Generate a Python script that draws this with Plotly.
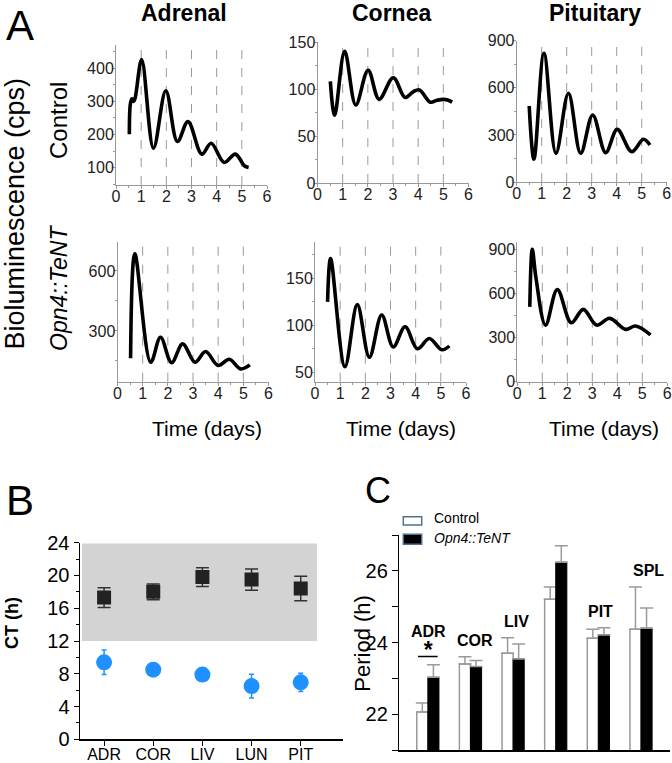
import plotly.graph_objects as go

W, H = 672, 763

# ---------------- Panel A data (time in days, bioluminescence in cps) -------------
adr_ctrl_t = [0.53, 0.57, 0.63, 0.70, 0.76, 1.02, 1.49, 1.98, 2.44, 2.86, 3.41, 3.78, 4.30, 4.74, 5.10, 5.27]
adr_ctrl_v = [201, 292, 308, 300, 310, 426, 159, 332, 179, 239, 141, 174, 116, 141, 106, 101]

cor_ctrl_t = [0.51, 0.68, 1.08, 1.52, 2.01, 2.45, 3.01, 3.48, 3.80, 4.05, 4.48, 4.75, 5.00, 5.20, 5.35]
cor_ctrl_v = [108, 72, 140, 83, 120, 89, 112, 91, 97, 99, 86, 88, 89, 88, 86]

pit_ctrl_t = [0.50, 0.69, 1.09, 1.57, 2.07, 2.56, 3.04, 3.56, 4.02, 4.60, 5.07, 5.33]
pit_ctrl_v = [484, 145, 820, 183, 565, 183, 427, 187, 335, 193, 272, 235]

adr_tent_t = [0.52, 0.69, 1.32, 1.71, 2.15, 2.59, 3.08, 3.50, 4.00, 4.44, 4.89, 5.26]
adr_tent_v = [163, 685, 143, 268, 141, 235, 143, 197, 127, 158, 110, 130]

cor_tent_t = [0.50, 0.62, 1.19, 1.68, 2.16, 2.65, 3.11, 3.58, 4.07, 4.54, 5.04, 5.34]
cor_tent_v = [125, 171, 56, 122, 66, 111, 77, 98.5, 75, 86, 74, 78]

pit_tent_t = [0.50, 0.60, 0.75, 1.13, 1.60, 2.16, 2.64, 3.17, 3.70, 4.33, 4.73, 5.33]
pit_tent_v = [508, 898, 700, 384, 626, 400, 491, 384, 430, 355, 378, 317]

tissues_a = ["Adrenal", "Cornea", "Pituitary"]
rows_a = ["Control", "Opn4::TeNT"]
day_ticks = [0, 1, 2, 3, 4, 5, 6]

# ---------------- Panel B data (CT, h) -------------
cats_b = ["ADR", "COR", "LIV", "LUN", "PIT"]
square_ct = [17.3, 18.0, 19.8, 19.5, 18.4]
square_err = [1.2, 0.95, 1.15, 1.3, 1.5]
circle_ct = [9.4, 8.5, 7.9, 6.5, 6.95]
circle_err = [1.5, 0.8, 0.3, 1.45, 1.1]
night_start, night_end = 12, 24

# ---------------- Panel C data (period, h) -------------
cats_c = ["ADR", "COR", "LIV", "LUN", "PIT", "SPL"]
ctrl_period = [22.06, 23.40, 23.70, 25.21, 24.12, 24.37]
ctrl_sem = [0.25, 0.20, 0.43, 0.34, 0.25, 1.18]
tent_period = [23.03, 23.33, 23.54, 26.24, 24.21, 24.40]
tent_sem = [0.35, 0.17, 0.42, 0.46, 0.20, 0.56]
series_c = ["Control", "Opn4::TeNT"]
significant = ["ADR"]

FONT = "Liberation Sans, Arial, sans-serif"


def px(x):
    return x / W


def py(y):
    return 1 - y / H


def ax_names(i):
    if i == 1:
        return "x", "y", "xaxis", "yaxis"
    return f"x{i}", f"y{i}", f"xaxis{i}", f"yaxis{i}"


fig = go.Figure()
layout = {}
shapes = []
annotations = []

series_a = [
    (adr_ctrl_t, adr_ctrl_v), (cor_ctrl_t, cor_ctrl_v), (pit_ctrl_t, pit_ctrl_v),
    (adr_tent_t, adr_tent_v), (cor_tent_t, cor_tent_v), (pit_tent_t, pit_tent_v),
]
# (x-domain px, y-domain px, y range, y dtick)
geom_a = [
    ((116, 267), (45, 185), [48, 470], 100),
    ((317.5, 468.5), (42, 183), [0, 150], 50),
    ((516.7, 666.7), (40.7, 182), [0, 900], 300),
    ((117.5, 268.5), (241.7, 381.7), [46, 746], 300),
    ((315, 466), (241.7, 381.7), [40, 189], 50),
    ((517.3, 667.3), (241.7, 381.7), [0, 950], 300),
]

for i, ((t, v), (xd, yd, yr, dt)) in enumerate(zip(series_a, geom_a), start=1):
    xa, ya, xk, yk = ax_names(i)
    fig.add_trace(go.Scatter(
        x=t, y=v, mode="lines", xaxis=xa, yaxis=ya, showlegend=False,
        line=dict(color="black", width=3.6, shape="spline", smoothing=1.0),
        hoverinfo="skip"))
    layout[xk] = dict(
        domain=[px(xd[0]), px(xd[1])], range=[0, 6], anchor=ya, automargin=False,
        tickvals=day_ticks, showgrid=False, zeroline=False,
        showline=True, linecolor="#999", linewidth=1,
        ticks="outside", ticklen=3, tickcolor="#999", ticklabelstandoff=-6,
        minor=dict(ticks="outside", ticklen=2, dtick=0.5, tickcolor="#999"),
        tickfont=dict(size=16, color="#222", family=FONT), fixedrange=True)
    layout[yk] = dict(
        domain=[py(yd[1]), py(yd[0])], range=yr, anchor=xa, automargin=False,
        tick0=0, dtick=dt, showgrid=False, zeroline=False,
        showline=True, linecolor="#999", linewidth=1,
        ticks="outside", ticklen=3, tickcolor="#999", ticklabelstandoff=-5,
        minor=dict(ticks="outside", ticklen=2, dtick=dt / 2, tickcolor="#999"),
        tickfont=dict(size=16, color="#222", family=FONT), fixedrange=True)
    for d in day_ticks[1:-1]:
        shapes.append(dict(type="line", xref=xa, yref=f"{ya} domain",
                           x0=d, x1=d, y0=0, y1=1,
                           line=dict(color="#9a9a9a", width=1, dash="dash"),
                           layer="below"))

# Panel A texts
for name, cx in zip(tissues_a, [184, 391, 595]):
    annotations.append(dict(text=f"<b>{name}</b>", x=px(cx), y=py(13), xref="paper", yref="paper",
                            showarrow=False, xanchor="center", yanchor="middle",
                            font=dict(size=23, color="black", family=FONT)))
for cx in [207, 401, 604]:
    annotations.append(dict(text="Time (days)", x=px(cx), y=py(428), xref="paper", yref="paper",
                            showarrow=False, xanchor="center", yanchor="middle",
                            font=dict(size=21, color="black", family=FONT)))
annotations.append(dict(text="Bioluminescence (cps)", x=px(14), y=py(213.5), xref="paper", yref="paper",
                        showarrow=False, textangle=-90, xanchor="center", yanchor="middle",
                        font=dict(size=27, color="black", family=FONT)))
annotations.append(dict(text=rows_a[0], x=px(59), y=py(120), xref="paper", yref="paper",
                        showarrow=False, textangle=-90, xanchor="center", yanchor="middle",
                        font=dict(size=24, color="black", family=FONT)))
annotations.append(dict(text=f"<i>{rows_a[1]}</i>", x=px(59), y=py(288), xref="paper", yref="paper",
                        showarrow=False, textangle=-90, xanchor="center", yanchor="middle",
                        font=dict(size=23, color="black", family=FONT)))
for letter, cx, cy, sz in [("A", 20, 26, 42), ("B", 20, 500, 42), ("C", 378, 490, 36)]:
    annotations.append(dict(text=letter, x=px(cx), y=py(cy), xref="paper", yref="paper",
                            showarrow=False, xanchor="center", yanchor="middle",
                            font=dict(size=sz, color="black", family=FONT)))

# ---------------- Panel B -------------
xb, yb, xbk, ybk = ax_names(7)
shapes.append(dict(type="rect", xref=xb, yref=yb, x0=-0.45, x1=4.33,
                   y0=night_start, y1=night_end - 0.1,
                   fillcolor="#d3d3d3", line=dict(width=0), layer="below"))
fig.add_trace(go.Scatter(
    x=cats_b, y=square_ct, mode="markers", xaxis=xb, yaxis=yb, showlegend=False,
    marker=dict(symbol="square", size=14, color="#222"),
    error_y=dict(type="data", array=square_err, color="#333", thickness=1.5, width=6.5)))
fig.add_trace(go.Scatter(
    x=cats_b, y=circle_ct, mode="markers", xaxis=xb, yaxis=yb, showlegend=False,
    marker=dict(symbol="circle", size=16, color="#1e90ff"),
    error_y=dict(type="data", array=circle_err, color="#1e90ff", thickness=1.5, width=2.5)))
layout[xbk] = dict(
    domain=[px(80), px(343)], range=[-0.49, 4.86], anchor=yb, type="category", automargin=False,
    showgrid=False, zeroline=False, showline=True, linecolor="black", linewidth=1.5,
    ticks="outside", ticklen=5, tickcolor="black", ticklabelstandoff=-5,
    tickfont=dict(size=16, color="black", family=FONT), fixedrange=True)
layout[ybk] = dict(
    domain=[py(739.3), py(542.7)], range=[0, 24], anchor=xb, automargin=False,
    tick0=0, dtick=4, showgrid=False, zeroline=False,
    showline=True, linecolor="black", linewidth=1.5,
    ticks="outside", ticklen=5, tickcolor="black",
    minor=dict(ticks="outside", ticklen=3, dtick=2, tickcolor="black"),
    tickfont=dict(size=20, color="black", family=FONT), fixedrange=True)
annotations.append(dict(text="<b>CT (h)</b>", x=px(12), y=py(623), xref="paper", yref="paper",
                        showarrow=False, textangle=-90, xanchor="center", yanchor="middle",
                        font=dict(size=18, color="black", family=FONT)))

# ---------------- Panel C -------------
xc, yc, xck, yck = ax_names(8)
bw = 0.26
fig.add_trace(go.Bar(
    x=cats_c, y=ctrl_period, name=series_c[0], xaxis=xc, yaxis=yc, showlegend=False,
    width=bw, offset=-bw,
    marker=dict(color="white", line=dict(color="#9a9a9a", width=1.5)),
    error_y=dict(type="data", symmetric=False, array=ctrl_sem, arrayminus=[0] * len(ctrl_sem),
                 color="#9a9a9a", thickness=1.5, width=6.5)))
fig.add_trace(go.Bar(
    x=cats_c, y=tent_period, name=series_c[1], xaxis=xc, yaxis=yc, showlegend=False,
    width=bw, offset=0,
    marker=dict(color="black", line=dict(color="black", width=1)),
    error_y=dict(type="data", symmetric=False, array=tent_sem, arrayminus=[0] * len(tent_sem),
                 color="#9a9a9a", thickness=1.5, width=6.5)))
layout[xck] = dict(
    domain=[px(399.3), px(670)], range=[-0.67, 5.68], anchor=yc, type="category", automargin=False,
    showgrid=False, zeroline=False, showline=True, linecolor="black", linewidth=1.5,
    showticklabels=False, ticks="", fixedrange=True)
layout[yck] = dict(
    domain=[py(750), py(535)], range=[21, 27], anchor=xc, automargin=False,
    tickvals=[22, 24, 26], showgrid=False, zeroline=False,
    showline=True, linecolor="black", linewidth=1.5,
    ticks="outside", ticklen=6, tickcolor="black",
    minor=dict(ticks="outside", ticklen=6, dtick=1, tickcolor="black"),
    tickfont=dict(size=20, color="black", family=FONT), fixedrange=True)
annotations.append(dict(text="Period (h)", x=px(361.7), y=py(643), xref="paper", yref="paper",
                        showarrow=False, textangle=-90, xanchor="center", yanchor="middle",
                        font=dict(size=22, color="black", family=FONT)))

# tissue labels above bars (significant tissue gets a star + bar under its label)
label_dx = [0.02, 0.10, 0.08, 0.11, 0.04, 0.17]
for i, cat in enumerate(cats_c):
    top = max(ctrl_period[i] + ctrl_sem[i], tent_period[i] + tent_sem[i])
    if cat in significant:
        line_y = top + 0.23
        shapes.append(dict(type="line", xref=xc, yref=yc, x0=i - 0.23, x1=i + 0.23,
                           y0=line_y, y1=line_y, line=dict(color="black", width=1.5)))
        annotations.append(dict(
            text=f"<b>{cat}</b><br><span style='font-size:23px'><b>*</b></span>",
            x=i + label_dx[i], y=line_y - 0.24, xref=xc, yref=yc, showarrow=False,
            xanchor="center", yanchor="bottom", align="center",
            font=dict(size=16, color="black", family=FONT)))
    else:
        annotations.append(dict(text=f"<b>{cat}</b>", x=i + label_dx[i], y=top + 0.45,
                                xref=xc, yref=yc, showarrow=False,
                                xanchor="center", yanchor="middle",
                                font=dict(size=16, color="black", family=FONT)))

# legend for panel C
shapes.append(dict(type="rect", xref="paper", yref="paper",
                   x0=px(403.3), x1=px(421.7), y0=py(525), y1=py(516.7),
                   fillcolor="white", line=dict(color="#4f7193", width=1.5)))
shapes.append(dict(type="rect", xref="paper", yref="paper",
                   x0=px(403.3), x1=px(421.7), y0=py(544.3), y1=py(534.3),
                   fillcolor="black", line=dict(color="#4f7193", width=1.5)))
annotations.append(dict(text=series_c[0], x=px(432), y=py(517.5), xref="paper", yref="paper",
                        showarrow=False, xanchor="left", yanchor="middle",
                        font=dict(size=14, color="black", family=FONT)))
annotations.append(dict(text=f"<i>{series_c[1]}</i>", x=px(432), y=py(538), xref="paper", yref="paper",
                        showarrow=False, xanchor="left", yanchor="middle",
                        font=dict(size=14, color="black", family=FONT)))

fig.update_layout(
    width=W, height=H, margin=dict(l=0, r=0, t=0, b=0, pad=0, autoexpand=False),
    paper_bgcolor="white", plot_bgcolor="white",
    font=dict(family=FONT, color="black"),
    showlegend=False, shapes=shapes, annotations=annotations, hovermode=False,
    **layout)

fig.write_html(
    "out.html",
    config={"responsive": False, "displayModeBar": False, "staticPlot": True},
    post_script="document.body.style.margin='0';document.body.style.overflow='hidden';")
